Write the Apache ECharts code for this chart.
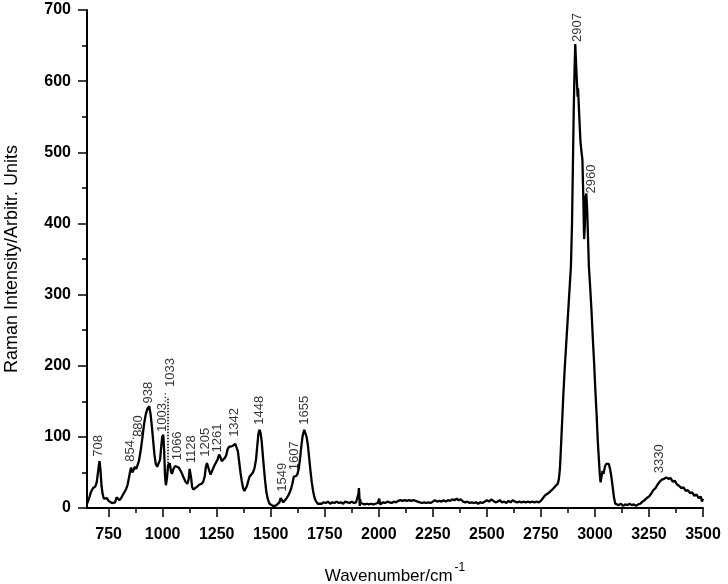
<!DOCTYPE html>
<html>
<head>
<meta charset="utf-8">
<script src="https://cdn.jsdelivr.net/npm/echarts@6/dist/echarts.min.js"></script>
<style>
html,body{margin:0;padding:0;background:#fff}
#raman{width:728px;height:584px}
</style>
</head>
<body>
<div id="raman"></div>
<script>
// wavenumber (cm-1) and intensity
var shift = [650,660,668,678,688,695,700,705,708,712,717,722,728,735,742,750,758,765,772,780,787,793,800,808,815,822,830,838,845,850,854,860,866,872,878,883,890,898,906,914,922,930,938,944,950,956,962,968,975,982,988,994,998,1003,1007,1011,1015,1020,1025,1030,1033,1038,1043,1050,1058,1066,1074,1082,1090,1098,1106,1114,1120,1125,1128,1132,1136,1142,1150,1160,1170,1180,1188,1195,1200,1205,1210,1216,1222,1228,1234,1240,1247,1254,1261,1267,1273,1280,1287,1294,1300,1307,1315,1322,1330,1336,1342,1348,1354,1360,1366,1372,1378,1384,1390,1396,1402,1410,1418,1425,1432,1438,1443,1448,1453,1458,1463,1468,1474,1480,1487,1494,1502,1510,1520,1530,1540,1546,1549,1553,1558,1565,1572,1580,1588,1595,1600,1607,1612,1618,1624,1630,1636,1642,1648,1655,1660,1666,1672,1678,1684,1690,1696,1703,1710,1718,
1725,1735,1745,1755,1765,1775,1785,1795,1805,1815,1825,1835,1845,1855,1865,1875,1885,1895,1903,1906,1908,1910,1912,1914,1916,1925,1935,1945,1955,1965,1975,1985,1995,2002,2006,2012,2020,2030,2040,2050,2060,2070,2080,2090,2100,2110,2120,2130,2140,2150,2160,2170,2180,2190,2200,2210,2220,2230,2240,2250,2260,2270,2280,2290,2300,2310,2320,2330,2340,2350,2360,2370,2380,2390,2400,2410,2420,2430,2440,2450,2460,2470,2480,2490,2500,2510,2520,2530,2540,2550,2560,2570,2580,2590,2600,2610,2620,2630,2640,2650,2660,2670,2680,2690,2700,2710,2720,2730,2740,2750,2760,2770,2778,2785,2792,2800,2808,2815,2822,2828,2833,2838,2842,2848,2854,2860,2866,2872,2878,2884,2889,2894,2898,2902,2906,2909,2912,2915,2918,2920,2922,2924,2928,2933,2938,2942,2946,2950,2953,2957,2960,2964,2968,2972,2978,2984,2990,2996,3002,3008,3013,3018,3022,3026,3030,3035,3040,3046,3052,3058,3064,3070,3076,3082,3088,3094,3100,3110,3120,3130,3140,3150,3160,3170,3180,3190,3200,3210,3220,3230,3240,3250,3260,3270,3280,3290,3300,3310,3320,3330,3340,3350,3360,3370,3380,3390,3400,3410,3420,3430,3440,3450,3460,3470,3480,3490,3495,3500];
var intensity = [6,14,22,28,30,36,48,60,66,55,32,20,13,15,14,10,9,7,5,8,15,13,11,14,18,20,26,33,44,52,57,50,54,58,55,56,66,80,98,118,132,140,143,132,115,95,75,62,58,58,68,88,100,103,80,45,32,42,60,62,63,52,48,55,59,60,57,53,48,42,37,34,40,55,57,42,30,26,28,30,33,34,37,45,58,63,58,52,47,48,56,60,62,68,75,72,66,65,70,74,82,86,87,87,89,90,91,80,65,50,38,28,24,26,31,38,44,47,50,56,68,88,104,110,106,94,76,58,38,22,12,6,4,3,3,5,8,14,16,12,8,10,13,17,22,28,34,44,46,45,48,56,70,88,102,110,108,100,88,70,52,36,24,14,9,6,
8,6,8,7,9,6,8,7,9,7,8,6,9,8,7,9,7,8,6,20,28,18,3,12,7,6,5,6,5,6,5,6,7,13,5,7,8,7,9,8,7,9,8,10,11,10,11,10,11,10,11,10,9,8,7,8,7,8,7,9,11,9,10,9,11,9,11,10,12,11,13,11,12,9,8,9,7,8,7,8,6,8,7,9,11,9,12,10,8,9,11,8,9,7,10,8,11,9,8,9,8,9,8,9,8,9,8,9,8,10,14,18,16,21,20,25,24,30,28,34,40,55,80,120,160,195,225,255,285,315,340,400,480,560,620,652,630,610,590,578,590,575,548,515,500,490,440,378,395,438,442,420,380,340,310,278,240,205,165,130,95,70,50,36,38,52,48,58,62,64,62,55,44,30,15,6,5,4,6,3,5,4,6,4,5,3,5,6,9,11,14,16,20,25,28,33,37,40,41,43,41,42,37,38,33,31,28,29,24,25,21,22,17,19,14,16,9,13];

// peak annotations: text, x position, y of the text's lower end
var peakText = ['708','854..','880','938','1003...','1033','1066','1128','1205','1261','1342','1448','1549','1607','1655','2907','2960','3330'];
var peakX =    [704, 849, 888, 934, 999, 1038, 1068, 1133, 1200, 1254, 1331, 1447, 1552, 1609, 1655, 2917, 2984, 3300];
var peakY =    [72, 65, 100, 147, 107, 170, 67, 63, 72, 78, 100, 117, 23, 53, 117, 655, 442, 49];

// dotted leader from the 1033 band up to its label
var leaderX = 1022;
var leaderY = [63, 156];

var xMajor = [750,1000,1250,1500,1750,2000,2250,2500,2750,3000,3250,3500];
var xMinor = [875,1125,1375,1625,1875,2125,2375,2625,2875,3125,3375];

var spectrum = [];
for (var i = 0; i < shift.length; i++) {
	spectrum.push([shift[i], intensity[i]]);
}
var peaks = [];
for (var j = 0; j < peakText.length; j++) {
	peaks.push({ value: [peakX[j], peakY[j]], name: peakText[j] });
}

var chart = echarts.init(document.getElementById('raman'));
var black = '#000';
chart.setOption({
	animation: false,
	backgroundColor: '#fff',
	grid: { left: 87, right: 25, top: 10, bottom: 76, outerBoundsMode: 'none' },
	xAxis: [{
		type: 'value', min: 650, max: 3500,
		name: 'Wavenumber/cm{sup|-1}',
		nameLocation: 'middle', nameGap: 54,
		nameTextStyle: {
			color: black, fontSize: 17, fontFamily: 'Liberation Sans',
			rich: { sup: { fontSize: 12, verticalAlign: 'top', padding: [0, 0, 16, 2], color: black } }
		},
		axisLine: { lineStyle: { color: black, width: 2 } },
		axisTick: { show: true, customValues: xMajor, length: 9, lineStyle: { color: black, width: 1.5 } },
		axisLabel: {
			customValues: xMajor, color: black, fontSize: 16, fontWeight: 'bold',
			fontFamily: 'Liberation Sans', margin: 19,
			formatter: function(v) { return String(v) }
		},
		splitLine: { show: false }
	}, {
		type: 'value', min: 650, max: 3500, position: 'bottom',
		axisLine: { show: false },
		axisTick: { show: true, customValues: xMinor, length: 5, lineStyle: { color: black, width: 1.5 } },
		axisLabel: { show: false, customValues: xMinor },
		splitLine: { show: false }
	}],
	yAxis: {
		type: 'value', min: 0, max: 700, interval: 100,
		name: 'Raman Intensity/Arbitr. Units',
		nameLocation: 'middle', nameGap: 66,
		nameTextStyle: { color: black, fontSize: 18, fontFamily: 'Liberation Sans' },
		axisLine: { show: true, lineStyle: { color: black, width: 2 } },
		axisTick: { show: true, length: 9, lineStyle: { color: black, width: 1.5 } },
		minorTick: { show: true, splitNumber: 2, length: 5, lineStyle: { color: black, width: 1.5 } },
		axisLabel: { color: black, fontSize: 16, fontWeight: 'bold', fontFamily: 'Liberation Sans', margin: 16 },
		splitLine: { show: false }
	},
	series: [{
		type: 'line',
		data: spectrum,
		showSymbol: false,
		lineStyle: { color: black, width: 2.3 },
		markLine: {
			silent: true, symbol: 'none',
			label: { show: false },
			lineStyle: { color: black, type: 'dotted', width: 1.5 },
			data: [[{ coord: [leaderX, leaderY[0]] }, { coord: [leaderX, leaderY[1]] }]]
		}
	}, {
		type: 'scatter',
		data: peaks,
		symbolSize: 0,
		silent: true,
		label: {
			show: true, position: 'inside', rotate: 90,
			align: 'left', verticalAlign: 'middle',
			color: black, fontSize: 13, fontFamily: 'Liberation Sans',
			formatter: function(p) { return p.name }
		}
	}]
});
</script>
</body>
</html>
